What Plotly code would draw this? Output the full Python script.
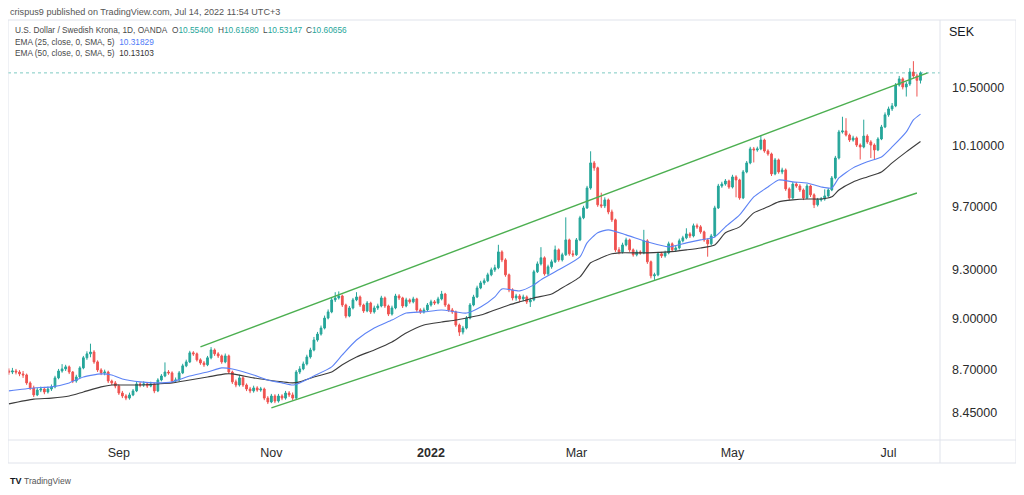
import pandas as pd
import plotly.graph_objects as go

# ---------------- data ----------------
start_date = "2021-07-19"
n_bars = 259

opens = [
    8.700, 8.690, 8.684, 8.690, 8.684, 8.673, 8.667, 8.621, 8.592, 8.552,
    8.580, 8.586, 8.569, 8.586, 8.598, 8.650, 8.690, 8.702, 8.714, 8.684,
    8.632, 8.655, 8.708, 8.767, 8.790, 8.801, 8.743, 8.696, 8.679, 8.684,
    8.632, 8.621, 8.603, 8.563, 8.546, 8.534, 8.552, 8.575, 8.615, 8.609,
    8.615, 8.603, 8.615, 8.575, 8.638, 8.661, 8.684, 8.679, 8.632, 8.638,
    8.679, 8.720, 8.743, 8.796, 8.790, 8.755, 8.737, 8.726, 8.767, 8.813,
    8.790, 8.778, 8.743, 8.778, 8.684, 8.627, 8.609, 8.650, 8.609, 8.586,
    8.575, 8.592, 8.580, 8.586, 8.534, 8.512, 8.546, 8.517, 8.546, 8.534,
    8.563, 8.552, 8.534, 8.684, 8.702, 8.731, 8.772, 8.813, 8.872, 8.907,
    8.943, 9.003, 9.040, 9.113, 9.125, 9.137, 9.082, 9.015, 9.064, 9.113,
    9.131, 9.082, 9.046, 9.094, 9.040, 9.064, 9.076, 9.125, 9.076, 9.027,
    9.064, 9.137, 9.125, 9.076, 9.113, 9.101, 9.119, 9.052, 9.040, 9.052,
    9.082, 9.101, 9.094, 9.119, 9.149, 9.082, 9.052, 9.040, 8.961, 8.919,
    8.943, 9.003, 9.082, 9.131, 9.186, 9.217, 9.230, 9.267, 9.298, 9.311,
    9.410, 9.360, 9.267, 9.174, 9.125, 9.137, 9.119, 9.131, 9.101, 9.113,
    9.286, 9.335, 9.373, 9.273, 9.317, 9.348, 9.423, 9.360, 9.392, 9.486,
    9.398, 9.392, 9.486, 9.627, 9.691, 9.821, 9.987, 9.954, 9.711, 9.704,
    9.743, 9.665, 9.614, 9.423, 9.410, 9.454, 9.486, 9.423, 9.392, 9.410,
    9.404, 9.480, 9.348, 9.261, 9.267, 9.398, 9.385, 9.404, 9.461, 9.423,
    9.435, 9.480, 9.499, 9.524, 9.511, 9.576, 9.569, 9.537, 9.486, 9.461,
    9.511, 9.691, 9.834, 9.847, 9.867, 9.827, 9.894, 9.874, 9.756, 9.927,
    9.987, 10.081, 10.074, 10.081, 10.141, 10.067, 10.047, 9.914, 10.007, 9.927,
    9.940, 9.815, 9.756, 9.847, 9.834, 9.808, 9.756, 9.834, 9.776, 9.711,
    9.743, 9.749, 9.769, 9.808, 9.887, 10.020, 10.196, 10.203, 10.175, 10.141,
    10.155, 10.107, 10.094, 10.168, 10.128, 10.107, 10.074, 10.148, 10.230, 10.313,
    10.354, 10.375, 10.521, 10.564, 10.507, 10.528, 10.613, 10.585, 10.55400,
]

highs = [
    8.712, 8.705, 8.708, 8.702, 8.695, 8.690, 8.675, 8.630, 8.605, 8.592,
    8.600, 8.598, 8.600, 8.612, 8.662, 8.702, 8.730, 8.726, 8.722, 8.690,
    8.668, 8.718, 8.778, 8.805, 8.850, 8.812, 8.752, 8.706, 8.698, 8.692,
    8.640, 8.632, 8.612, 8.575, 8.556, 8.565, 8.586, 8.628, 8.626, 8.630,
    8.625, 8.628, 8.622, 8.648, 8.672, 8.740, 8.695, 8.688, 8.652, 8.690,
    8.732, 8.756, 8.808, 8.806, 8.798, 8.764, 8.748, 8.778, 8.830, 8.822,
    8.800, 8.786, 8.792, 8.786, 8.692, 8.640, 8.668, 8.660, 8.618, 8.598,
    8.605, 8.602, 8.598, 8.594, 8.545, 8.558, 8.556, 8.558, 8.556, 8.575,
    8.574, 8.566, 8.695, 8.718, 8.745, 8.785, 8.826, 8.890, 8.920, 8.958,
    9.018, 9.055, 9.128, 9.160, 9.165, 9.145, 9.090, 9.076, 9.125, 9.160,
    9.140, 9.090, 9.106, 9.102, 9.078, 9.090, 9.138, 9.134, 9.084, 9.078,
    9.150, 9.148, 9.132, 9.126, 9.122, 9.132, 9.126, 9.062, 9.066, 9.094,
    9.114, 9.112, 9.132, 9.168, 9.156, 9.090, 9.064, 9.048, 8.970, 8.956,
    9.015, 9.094, 9.144, 9.200, 9.230, 9.245, 9.280, 9.312, 9.330, 9.455,
    9.420, 9.370, 9.275, 9.184, 9.150, 9.148, 9.145, 9.140, 9.126, 9.298,
    9.350, 9.440, 9.382, 9.330, 9.362, 9.450, 9.432, 9.405, 9.630, 9.494,
    9.420, 9.498, 9.640, 9.705, 9.835, 10.065, 10.000, 9.962, 9.790, 9.760,
    9.752, 9.680, 9.622, 9.440, 9.468, 9.500, 9.494, 9.432, 9.424, 9.420,
    9.550, 9.490, 9.356, 9.280, 9.410, 9.410, 9.418, 9.475, 9.470, 9.450,
    9.494, 9.512, 9.560, 9.535, 9.590, 9.590, 9.580, 9.545, 9.495, 9.524,
    9.705, 9.848, 9.862, 9.880, 9.876, 9.908, 9.905, 9.882, 9.940, 10.000,
    10.095, 10.094, 10.096, 10.175, 10.150, 10.078, 10.056, 10.020, 10.016, 9.955,
    9.950, 9.825, 9.860, 9.860, 9.846, 9.818, 9.848, 9.842, 9.786, 9.756,
    9.762, 9.812, 9.820, 9.900, 10.034, 10.210, 10.300, 10.290, 10.185, 10.170,
    10.165, 10.118, 10.280, 10.180, 10.140, 10.118, 10.160, 10.244, 10.330, 10.370,
    10.395, 10.535, 10.585, 10.575, 10.545, 10.640, 10.690, 10.600, 10.61680,
]

lows = [
    8.676, 8.668, 8.672, 8.670, 8.660, 8.650, 8.610, 8.580, 8.540, 8.545,
    8.568, 8.556, 8.560, 8.575, 8.590, 8.642, 8.680, 8.690, 8.672, 8.620,
    8.622, 8.648, 8.700, 8.755, 8.770, 8.732, 8.684, 8.666, 8.665, 8.620,
    8.608, 8.590, 8.552, 8.534, 8.522, 8.525, 8.545, 8.568, 8.596, 8.598,
    8.592, 8.596, 8.562, 8.568, 8.630, 8.654, 8.668, 8.620, 8.622, 8.630,
    8.672, 8.712, 8.736, 8.778, 8.745, 8.726, 8.714, 8.718, 8.758, 8.778,
    8.766, 8.732, 8.735, 8.672, 8.615, 8.596, 8.600, 8.598, 8.574, 8.562,
    8.565, 8.570, 8.570, 8.522, 8.500, 8.505, 8.505, 8.508, 8.522, 8.525,
    8.540, 8.522, 8.528, 8.672, 8.694, 8.722, 8.762, 8.805, 8.862, 8.898,
    8.935, 8.995, 9.032, 9.100, 9.115, 9.070, 9.002, 9.008, 9.055, 9.105,
    9.070, 9.034, 9.038, 9.028, 9.030, 9.052, 9.068, 9.064, 9.015, 9.018,
    9.056, 9.112, 9.064, 9.068, 9.090, 9.092, 9.040, 9.028, 9.030, 9.044,
    9.072, 9.082, 9.086, 9.110, 9.070, 9.040, 9.028, 8.950, 8.896, 8.905,
    8.935, 8.995, 9.074, 9.124, 9.178, 9.205, 9.222, 9.258, 9.285, 9.302,
    9.346, 9.255, 9.160, 9.110, 9.108, 9.100, 9.105, 9.088, 9.070, 9.105,
    9.278, 9.325, 9.262, 9.262, 9.305, 9.340, 9.348, 9.350, 9.385, 9.386,
    9.378, 9.385, 9.478, 9.618, 9.684, 9.810, 9.935, 9.698, 9.690, 9.690,
    9.650, 9.600, 9.410, 9.395, 9.400, 9.445, 9.410, 9.380, 9.382, 9.392,
    9.395, 9.335, 9.245, 9.236, 9.258, 9.372, 9.374, 9.395, 9.410, 9.412,
    9.425, 9.470, 9.490, 9.498, 9.502, 9.556, 9.525, 9.474, 9.380, 9.450,
    9.502, 9.684, 9.822, 9.836, 9.815, 9.818, 9.760, 9.744, 9.748, 9.918,
    9.978, 9.990, 10.062, 10.072, 10.055, 10.035, 9.900, 9.905, 9.915, 9.912,
    9.802, 9.742, 9.748, 9.822, 9.795, 9.742, 9.748, 9.762, 9.690, 9.700,
    9.732, 9.738, 9.760, 9.800, 9.878, 10.010, 10.185, 10.165, 10.128, 10.130,
    10.094, 10.010, 10.085, 10.115, 10.020, 10.010, 10.066, 10.140, 10.222, 10.300,
    10.340, 10.366, 10.510, 10.490, 10.440, 10.515, 10.570, 10.440, 10.53147,
]

closes = [
    8.690, 8.684, 8.690, 8.684, 8.673, 8.667, 8.621, 8.592, 8.552, 8.580,
    8.586, 8.569, 8.586, 8.598, 8.650, 8.690, 8.702, 8.714, 8.684, 8.632,
    8.655, 8.708, 8.767, 8.790, 8.801, 8.743, 8.696, 8.679, 8.684, 8.632,
    8.621, 8.603, 8.563, 8.546, 8.534, 8.552, 8.575, 8.615, 8.609, 8.615,
    8.603, 8.615, 8.575, 8.638, 8.661, 8.684, 8.679, 8.632, 8.638, 8.679,
    8.720, 8.743, 8.796, 8.790, 8.755, 8.737, 8.726, 8.767, 8.813, 8.790,
    8.778, 8.743, 8.778, 8.684, 8.627, 8.609, 8.650, 8.609, 8.586, 8.575,
    8.592, 8.580, 8.586, 8.534, 8.512, 8.546, 8.517, 8.546, 8.534, 8.563,
    8.552, 8.534, 8.684, 8.702, 8.731, 8.772, 8.813, 8.872, 8.907, 8.943,
    9.003, 9.040, 9.113, 9.125, 9.137, 9.082, 9.015, 9.064, 9.113, 9.131,
    9.082, 9.046, 9.094, 9.040, 9.064, 9.076, 9.125, 9.076, 9.027, 9.064,
    9.137, 9.125, 9.076, 9.113, 9.101, 9.119, 9.052, 9.040, 9.052, 9.082,
    9.101, 9.094, 9.119, 9.149, 9.082, 9.052, 9.040, 8.961, 8.919, 8.943,
    9.003, 9.082, 9.131, 9.186, 9.217, 9.230, 9.267, 9.298, 9.311, 9.410,
    9.360, 9.267, 9.174, 9.125, 9.137, 9.119, 9.131, 9.101, 9.113, 9.286,
    9.335, 9.373, 9.273, 9.317, 9.348, 9.423, 9.360, 9.392, 9.486, 9.398,
    9.392, 9.486, 9.627, 9.691, 9.821, 9.987, 9.954, 9.711, 9.704, 9.743,
    9.665, 9.614, 9.423, 9.410, 9.454, 9.486, 9.423, 9.392, 9.410, 9.404,
    9.480, 9.348, 9.261, 9.267, 9.398, 9.385, 9.404, 9.461, 9.423, 9.435,
    9.480, 9.499, 9.524, 9.511, 9.576, 9.569, 9.537, 9.486, 9.461, 9.511,
    9.691, 9.834, 9.847, 9.867, 9.827, 9.894, 9.874, 9.756, 9.927, 9.987,
    10.081, 10.074, 10.081, 10.141, 10.067, 10.047, 9.914, 10.007, 9.927, 9.940,
    9.815, 9.756, 9.847, 9.834, 9.808, 9.756, 9.834, 9.776, 9.711, 9.743,
    9.749, 9.769, 9.808, 9.887, 10.020, 10.196, 10.203, 10.175, 10.141, 10.155,
    10.107, 10.094, 10.168, 10.128, 10.107, 10.074, 10.148, 10.230, 10.313, 10.354,
    10.375, 10.521, 10.564, 10.507, 10.528, 10.613, 10.585, 10.554, 10.60656,
]

# EMA lines, sampled along the picture (bar index -> value)
ema25_bar = [1, 8, 13, 18, 22, 27, 30, 33, 38, 43, 47, 52, 57, 61, 64, 70, 74, 78, 81, 83,
             87, 92, 95, 99, 104, 109, 113, 118, 123, 127, 130, 134, 138, 140, 145, 149, 151,
             156, 162, 164, 167, 170, 175, 181, 187, 192, 196, 200, 203, 207, 211, 215, 218,
             222, 226, 230, 233, 235, 239, 243, 247, 250, 254, 256, 258]
ema25 = [8.575, 8.592, 8.598, 8.621, 8.655, 8.673, 8.667, 8.644, 8.627, 8.621, 8.627, 8.661,
         8.684, 8.708, 8.702, 8.667, 8.638, 8.621, 8.609, 8.621, 8.661, 8.714, 8.784, 8.872,
         8.943, 8.991, 9.033, 9.040, 9.052, 9.040, 9.033, 9.070, 9.131, 9.180, 9.168, 9.205,
         9.236, 9.298, 9.379, 9.467, 9.531, 9.550, 9.518, 9.473, 9.442, 9.467, 9.486, 9.505,
         9.569, 9.646, 9.763, 9.828, 9.874, 9.861, 9.854, 9.828, 9.821, 9.887, 9.954, 9.994,
         10.027, 10.094, 10.196, 10.278, 10.318]

ema50_bar = [1, 8, 13, 18, 22, 27, 30, 33, 38, 43, 47, 52, 57, 62, 64, 70, 74, 78, 81, 83,
             87, 92, 95, 99, 104, 109, 113, 118, 123, 127, 130, 134, 138, 142, 145, 149, 154,
             156, 162, 165, 168, 171, 173, 181, 187, 192, 196, 200, 203, 207, 211, 215, 218,
             222, 226, 230, 233, 235, 239, 243, 247, 250, 254, 258]
ema50 = [8.501, 8.528, 8.534, 8.546, 8.569, 8.598, 8.609, 8.609, 8.609, 8.615, 8.621, 8.638,
         8.655, 8.673, 8.673, 8.650, 8.638, 8.627, 8.621, 8.627, 8.655, 8.684, 8.726, 8.772,
         8.813, 8.860, 8.913, 8.961, 8.979, 8.991, 9.003, 9.021, 9.052, 9.082, 9.101, 9.125,
         9.149, 9.174, 9.254, 9.342, 9.373, 9.398, 9.404, 9.404, 9.410, 9.423, 9.435, 9.454,
         9.531, 9.569, 9.659, 9.698, 9.730, 9.743, 9.749, 9.749, 9.763, 9.808, 9.861, 9.894,
         9.927, 9.987, 10.061, 10.131]

# channel trend lines
upper_dates = ["2021-10-04", "2022-07-18"]
upper_vals = [8.831, 10.606]
lower_dates = ["2021-11-01", "2022-07-13"]
lower_vals = [8.478, 9.788]

price_ticks = [8.45, 8.70, 9.00, 9.30, 9.70, 10.10, 10.50]
month_ticks = ["2021-09-01", "2021-11-01", "2022-01-03", "2022-03-01", "2022-05-02", "2022-07-01"]
month_labels = ["Sep", "Nov", "<b>2022</b>", "Mar", "May", "Jul"]

ohlc_keys = ["O", "H", "L", "C"]
ohlc_last = ["10.55400", "10.61680", "10.53147", "10.60656"]
ema25_last, ema50_last = "10.31829", "10.13103"

# ---------------- figure ----------------
dates = pd.bdate_range(start_date, periods=n_bars)
x_range = ["2021-07-19 18:00", "2022-07-21 12:00"]

UP, DOWN = "#26a69a", "#ef5350"
FONT = "Liberation Sans, Arial, sans-serif"

fig = go.Figure()
fig.add_trace(go.Candlestick(
    x=dates, open=opens, high=highs, low=lows, close=closes,
    increasing=dict(line=dict(color=UP, width=1), fillcolor=UP),
    decreasing=dict(line=dict(color=DOWN, width=1), fillcolor=DOWN),
    whiskerwidth=0, showlegend=False, hoverinfo="skip",
))
fig.add_trace(go.Scatter(
    x=[dates[i] for i in ema50_bar], y=ema50, mode="lines",
    line=dict(color="#3c3c3c", width=1.1, shape="spline", smoothing=0.6),
    showlegend=False, hoverinfo="skip"))
fig.add_trace(go.Scatter(
    x=[dates[i] for i in ema25_bar], y=ema25, mode="lines",
    line=dict(color="#5d83f5", width=1.1, shape="spline", smoothing=0.6),
    showlegend=False, hoverinfo="skip"))
fig.add_trace(go.Scatter(
    x=upper_dates, y=upper_vals, mode="lines",
    line=dict(color="#4caf50", width=1.4), showlegend=False, hoverinfo="skip"))
fig.add_trace(go.Scatter(
    x=lower_dates, y=lower_vals, mode="lines",
    line=dict(color="#4caf50", width=1.4), showlegend=False, hoverinfo="skip"))
fig.add_trace(go.Scatter(
    x=x_range, y=[float(ohlc_last[3])] * 2, mode="lines",
    line=dict(color="rgba(38,166,154,0.6)", width=1, dash="dot"),
    showlegend=False, hoverinfo="skip"))

# The page body has an 8px margin, so the figure is 8px smaller on each axis
# and reference pixel (x, y) maps to figure pixel (x-8, y-8).
PAGE = 8
FIG_W, FIG_H = 1024 - PAGE, 495 - PAGE
L, R, T, B = 8, 940, 21, 440          # plot area in reference pixels
W = R - L
H = B - T


def px(x):
    return (x - L) / W


def py(y):
    return (B - y) / H


BORDER = "#e0e3eb"
shapes = [
    dict(type="rect", xref="paper", yref="paper", x0=px(8), x1=px(1016), y0=py(463), y1=py(20),
         line=dict(color=BORDER, width=1), layer="above"),
    dict(type="line", xref="paper", yref="paper", x0=px(940), x1=px(940), y0=py(463), y1=py(20),
         line=dict(color=BORDER, width=1), layer="above"),
    dict(type="line", xref="paper", yref="paper", x0=px(8), x1=px(1016), y0=py(440), y1=py(440),
         line=dict(color=BORDER, width=1), layer="above"),
]

TXT = "#4a4a4a"
annotations = [
    dict(text="crispus9 published on TradingView.com, Jul 14, 2022 11:54 UTC+3",
         x=px(8), y=py(12), xanchor="left", yanchor="middle",
         font=dict(family=FONT, size=9.1, color="#555555")),
    dict(text="U.S. Dollar / Swedish Krona, 1D, OANDA",
         x=px(13), y=py(30), xanchor="left", yanchor="middle",
         font=dict(family=FONT, size=8.3, color=TXT)),
    dict(text=f"EMA (25, close, 0, SMA, 5)&nbsp;&nbsp;<span style='color:#4f7bf7'>{ema25_last}</span>",
         x=px(13), y=py(42), xanchor="left", yanchor="middle",
         font=dict(family=FONT, size=8.3, color=TXT)),
    dict(text=f"EMA (50, close, 0, SMA, 5)&nbsp;&nbsp;<span style='color:#333333'>{ema50_last}</span>",
         x=px(13), y=py(53), xanchor="left", yanchor="middle",
         font=dict(family=FONT, size=8.3, color=TXT)),
    dict(text="SEK", x=px(947), y=py(32), xanchor="left", yanchor="middle",
         font=dict(family=FONT, size=12.5, color="#131722")),
    dict(text="<b>TV</b>", x=px(8), y=py(481), xanchor="left", yanchor="middle",
         font=dict(family=FONT, size=9, color="#131722")),
    dict(text="TradingView", x=px(22), y=py(481), xanchor="left", yanchor="middle",
         font=dict(family=FONT, size=8.5, color="#555555")),
]
for key, val, xpos in zip(ohlc_keys, ohlc_last, [170, 216, 261, 304]):
    annotations.append(dict(
        text=f"{key}<span style='color:{UP}'>{val}</span>",
        x=px(xpos), y=py(30), xanchor="left", yanchor="middle",
        font=dict(family=FONT, size=8.3, color=TXT)))
for a in annotations:
    a.update(xref="paper", yref="paper", showarrow=False)

fig.update_layout(
    width=FIG_W, height=FIG_H,
    margin=dict(l=L - PAGE, r=FIG_W - (R - PAGE), t=T - PAGE, b=FIG_H - (B - PAGE)),
    paper_bgcolor="white", plot_bgcolor="white",
    shapes=shapes, annotations=annotations,
    showlegend=False,
    xaxis=dict(
        type="date", range=x_range,
        rangebreaks=[dict(bounds=["sat", "mon"])],
        rangeslider=dict(visible=False),
        tickvals=month_ticks, ticktext=month_labels,
        ticks="", ticklabelstandoff=3,
        showgrid=False, zeroline=False, showline=False,
        tickfont=dict(family=FONT, size=12.5, color="#2b2b2b"),
    ),
    yaxis=dict(
        type="log", side="right",
        range=[0.91898, 1.04064],
        tickvals=price_ticks, ticktext=[f"{v:.5f}" for v in price_ticks],
        ticks="", ticklabelstandoff=11,
        showgrid=False, zeroline=False, showline=False,
        tickfont=dict(family=FONT, size=12.5, color="#2b2b2b"),
    ),
)

fig.write_html("out.html")
